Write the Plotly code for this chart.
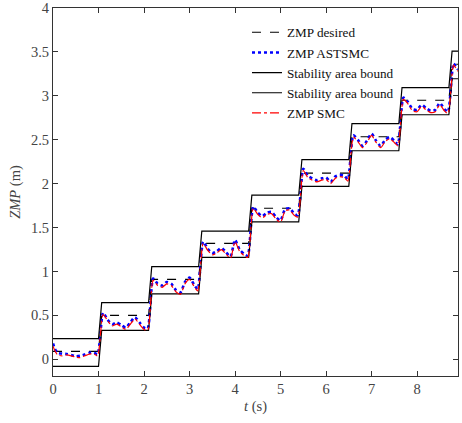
import plotly.graph_objects as go

# ---- data ----
step_times = [1.0, 2.1, 3.2, 4.3, 5.4, 6.5, 7.6, 8.7]
ramp = 0.07
t_end = 8.9
desired_levels = [0.09, 0.50, 0.91, 1.32, 1.72, 2.12, 2.535, 2.95, 3.36]
upper_levels = [0.235, 0.645, 1.055, 1.46, 1.87, 2.275, 2.685, 3.095, 3.51]
lower_levels = [-0.08, 0.33, 0.745, 1.16, 1.565, 1.97, 2.375, 2.785, 3.195]

zmp_t = [
    0, 0.04, 0.1, 0.2, 0.3, 0.4, 0.5, 0.6, 0.7, 0.8, 0.9, 0.98,
    1.1, 1.2, 1.3, 1.4, 1.5, 1.6, 1.7, 1.8, 1.9, 2.0, 2.08,
    2.2, 2.3, 2.4, 2.5, 2.6, 2.7, 2.8, 2.9, 3.0, 3.1, 3.18,
    3.3, 3.4, 3.5, 3.6, 3.7, 3.8, 3.9, 4.0, 4.1, 4.2, 4.28,
    4.4, 4.5, 4.6, 4.7, 4.8, 4.9, 5.0, 5.1, 5.2, 5.3, 5.38,
    5.5, 5.6, 5.7, 5.8, 5.9, 6.0, 6.1, 6.2, 6.3, 6.4, 6.48,
    6.6, 6.7, 6.8, 6.9, 7.0, 7.1, 7.2, 7.3, 7.4, 7.5, 7.58,
    7.7, 7.8, 7.9, 8.0, 8.1, 8.2, 8.3, 8.4, 8.5, 8.6, 8.68,
    8.8, 8.85, 8.9,
]
zmp_astsmc = [
    0.18, 0.12, 0.075, 0.065, 0.06, 0.05, 0.035, 0.04, 0.055, 0.075, 0.075, 0.06,
    0.53, 0.45, 0.40, 0.42, 0.39, 0.36, 0.42, 0.48, 0.42, 0.36, 0.35,
    0.92, 0.86, 0.84, 0.88, 0.86, 0.79, 0.76, 0.88, 0.93, 0.85, 0.80,
    1.34, 1.26, 1.21, 1.23, 1.27, 1.22, 1.17, 1.36, 1.25, 1.20, 1.18,
    1.74, 1.67, 1.63, 1.67, 1.68, 1.62, 1.58, 1.71, 1.72, 1.66, 1.64,
    2.17, 2.09, 2.06, 2.04, 2.06, 2.07, 2.02, 2.08, 2.10, 2.09, 2.05,
    2.55, 2.50, 2.43, 2.49, 2.57, 2.49, 2.43, 2.50, 2.53, 2.49, 2.45,
    2.98, 2.93, 2.85, 2.84, 2.90, 2.86, 2.83, 2.84, 2.92, 2.85, 2.82,
    3.37, 3.34, 3.30,
]
zmp_smc = [
    0.15, 0.10, 0.05, 0.04, 0.05, 0.04, 0.025, 0.02, 0.04, 0.06, 0.06, 0.04,
    0.51, 0.44, 0.38, 0.40, 0.37, 0.34, 0.40, 0.46, 0.40, 0.34, 0.33,
    0.90, 0.84, 0.82, 0.86, 0.84, 0.77, 0.74, 0.86, 0.91, 0.83, 0.78,
    1.32, 1.24, 1.19, 1.21, 1.25, 1.20, 1.15, 1.34, 1.23, 1.18, 1.16,
    1.72, 1.65, 1.61, 1.65, 1.66, 1.60, 1.56, 1.69, 1.70, 1.64, 1.62,
    2.15, 2.07, 2.04, 2.02, 2.04, 2.05, 2.00, 2.06, 2.08, 2.07, 2.03,
    2.53, 2.48, 2.41, 2.47, 2.55, 2.47, 2.41, 2.48, 2.51, 2.47, 2.43,
    2.96, 2.91, 2.83, 2.82, 2.88, 2.84, 2.81, 2.82, 2.90, 2.83, 2.80,
    3.35, 3.32, 3.28,
]

x_ticks = [0, 1, 2, 3, 4, 5, 6, 7, 8]
y_ticks = [0, 0.5, 1, 1.5, 2, 2.5, 3, 3.5, 4]
y_tick_labels = ["0", "0.5", "1", "1.5", "2", "2.5", "3", "3.5", "4"]


def staircase(levels):
    xs, ys = [0.0], [levels[0]]
    for i, ts in enumerate(step_times):
        xs += [ts, ts + ramp]
        ys += [levels[i], levels[i + 1]]
    xs.append(t_end)
    ys.append(levels[-1])
    return xs, ys


FONT = "Times New Roman, Liberation Serif, serif"
fig = go.Figure()

dx, dy = staircase(desired_levels)
fig.add_trace(go.Scatter(x=dx, y=dy, mode="lines", name="ZMP desired",
                         line=dict(color="black", width=1.1, dash="dash")))
fig.add_trace(go.Scatter(x=zmp_t, y=zmp_astsmc, mode="lines", name="ZMP ASTSMC",
                         line=dict(color="#0000ff", width=2.6, dash="dot", shape="spline", smoothing=0.6)))
ux, uy = staircase(upper_levels)
fig.add_trace(go.Scatter(x=ux, y=uy, mode="lines", name="Stability area bound",
                         line=dict(color="black", width=1.2)))
lx, ly = staircase(lower_levels)
fig.add_trace(go.Scatter(x=lx, y=ly, mode="lines", name="Stability area bound",
                         line=dict(color="black", width=1.2)))
fig.add_trace(go.Scatter(x=zmp_t, y=zmp_smc, mode="lines", name="ZMP SMC",
                         line=dict(color="#ff0000", width=1.2, dash="dashdot", shape="spline", smoothing=0.6)))

axis_common = dict(
    showline=True, linecolor="#333333", linewidth=1, mirror="ticks",
    ticks="inside", ticklen=5, tickcolor="#333333", showgrid=False, zeroline=False,
    tickfont=dict(family=FONT, size=14.5, color="#444444"), automargin=False,
    ticklabeloverflow="allow",
)
fig.update_xaxes(range=[0, 8.9], tickvals=x_ticks,
                 title=dict(text="<i>t</i> (s)", font=dict(family=FONT, size=14.5, color="#444444"), standoff=4),
                 **axis_common)
fig.update_yaxes(range=[-0.19, 4.001], tickvals=y_ticks, ticktext=y_tick_labels,
                 title=dict(text="<i>ZMP</i> (m)", font=dict(family=FONT, size=14.5, color="#444444"), standoff=6),
                 **axis_common)

fig.update_layout(
    width=462, height=423,
    margin=dict(l=53, r=4, t=8, b=47),
    plot_bgcolor="white", paper_bgcolor="white",
    font=dict(family=FONT, size=14, color="#222222"),
    legend=dict(x=0.479, y=0.975, xanchor="left", yanchor="top",
                bgcolor="rgba(255,255,255,0)", borderwidth=0,
                font=dict(family=FONT, size=13.2, color="#111111"),
                tracegroupgap=0, itemwidth=30),
    showlegend=True,
)

fig.write_html("out.html", config={"displayModeBar": False},
               post_script="document.body.style.margin='0px';")
